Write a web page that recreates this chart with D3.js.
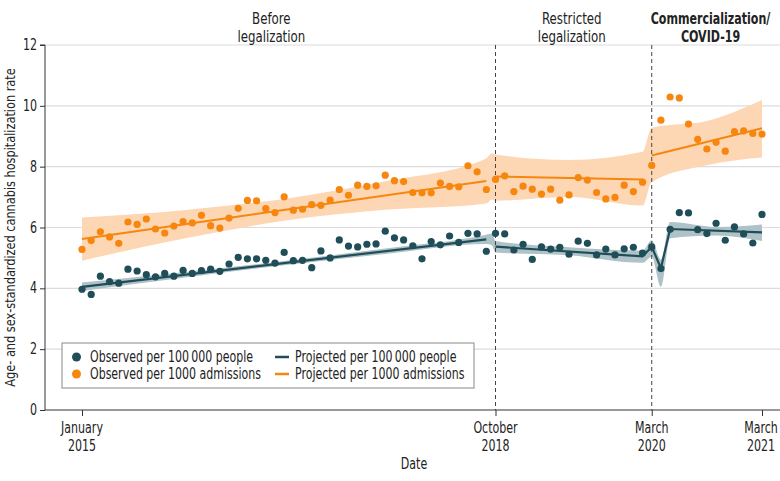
<!DOCTYPE html>
<html><head><meta charset="utf-8">
<script src="https://cdn.jsdelivr.net/npm/d3@7"></script>
<style>
body{margin:0;background:#fff;}
svg{display:block;font-family:"Liberation Sans Narrow","DejaVu Sans Condensed","Liberation Sans",sans-serif;}
</style></head>
<body><svg id="chart" width="780" height="481"></svg>
<script>
// Monthly observations, January 2015 (index 0) to March 2021 (index 74)
const per100k = [3.97,3.80,4.40,4.22,4.17,4.63,4.57,4.45,4.38,4.49,4.40,4.59,4.49,4.58,4.63,4.56,4.80,5.02,4.97,4.97,4.92,4.83,5.18,4.91,4.92,4.68,5.23,5.00,5.59,5.39,5.36,5.45,5.46,5.88,5.66,5.59,5.40,4.97,5.54,5.43,5.72,5.51,5.81,5.79,5.22,5.81,5.79,5.26,5.45,4.95,5.36,5.29,5.35,5.12,5.55,5.48,5.10,5.29,5.10,5.30,5.35,5.16,5.36,4.65,5.94,6.49,6.48,5.93,5.80,6.14,5.58,6.02,5.79,5.49,6.43];
const per1000 = [5.28,5.57,5.86,5.69,5.48,6.18,6.10,6.28,5.95,5.82,6.05,6.19,6.15,6.40,6.06,5.98,6.31,6.63,6.89,6.88,6.62,6.49,7.01,6.57,6.60,6.75,6.73,6.90,7.25,7.06,7.39,7.35,7.37,7.72,7.54,7.51,7.15,7.14,7.14,7.46,7.35,7.34,8.03,7.83,7.25,7.58,7.70,7.18,7.36,7.26,7.10,7.26,6.90,7.07,7.64,7.56,7.15,6.94,6.99,7.39,7.18,7.49,8.04,9.53,10.29,10.26,9.40,8.90,8.58,8.80,8.51,9.15,9.18,9.09,9.07];
// Projected lines: segments of [monthIndex, value]
const proj100kSegments = [
  [[0,4.05],[44,5.61]],
  [[45,5.37],[61,5.05],[62,5.37],[63,4.66],[64,5.95],[74,5.84]]
];
const proj1000Segments = [
  [[0,5.62],[44,7.53]],
  [[45,7.68],[61,7.58]],
  [[62,8.37],[74,9.26]]
];
// Confidence bands: [monthIndex, lower, upper]
const band100k = [[0,3.91,4.19],[11,4.35,4.53],[22,4.76,4.90],[33,5.13,5.31],[44,5.46,5.76],[44.6,5.42,5.80],[45,5.18,5.56],[53,5.09,5.35],[61,4.84,5.24],[62,5.04,5.58],[63,4.05,4.95],[64,5.65,6.18],[69,5.74,6.02],[74,5.56,6.10]];
const band1000 = [[0,4.91,6.33],[11,5.63,6.57],[22,6.22,6.94],[33,6.58,7.52],[44,6.79,8.27],[44.6,6.92,8.44],[45,6.88,8.40],[53,7.00,8.22],[61,6.72,8.49],[62,7.50,9.28],[68,8.05,9.50],[74,8.30,10.19]];
const xTicks = [0,45,62,74];
const xTickLabels = [["January","2015"],["October","2018"],["March","2020"],["March","2021"]];
const yTicks = [0,2,4,6,8,10,12];
const periodBreaks = [45,62];
const periods = [
  {lines:["Before","legalization"], at:20.6, bold:false},
  {lines:["Restricted","legalization"], at:53.3, bold:false},
  {lines:["Commercialization/","COVID-19"], at:68.4, bold:true}
];
const legendItems = [
  {type:"dot", key:"teal", label:"Observed per 100\u2009000 people"},
  {type:"line", key:"teal", label:"Projected per 100\u2009000 people"},
  {type:"dot", key:"orange", label:"Observed per 1000 admissions"},
  {type:"line", key:"orange", label:"Projected per 1000 admissions"}
];

const colors = {teal:"#1f4d58", orange:"#f7860f", tealBand:"#aec2c7", orangeBand:"#fdd6b3"};
const svg = d3.select("#chart");
const x = d3.scaleLinear().domain([0,74]).range([82,762]);
const y = d3.scaleLinear().domain([0,12]).range([410,45]);
const left = 45, right = 780;

// condensed text: natural glyphs squeezed horizontally by a scale transform
const RATIO = 0.82;
function ctext(parent, str, px, py, opts){
  const o = Object.assign({size:15, anchor:"middle", ratio:RATIO, weight:"normal", rotate:0}, opts||{});
  const g = parent.append("g");
  const t = g.append("text").attr("x",0).attr("y",0).attr("font-size",o.size)
    .attr("text-anchor",o.anchor).attr("font-weight",o.weight).attr("fill","#222").text(str);
  const rot = o.rotate ? ` rotate(${o.rotate})` : "";
  g.attr("transform",`translate(${px},${py})${rot} scale(${o.ratio},1)`);
  return t;
}

// gridlines
svg.append("g").selectAll("line").data(yTicks.filter(d=>d>0)).join("line")
  .attr("x1",left).attr("x2",right).attr("y1",d=>y(d)).attr("y2",d=>y(d))
  .attr("stroke","#dcdcdc").attr("stroke-width",1.2);

// bands
const area = d3.area().x(d=>x(d[0])).y0(d=>y(d[1])).y1(d=>y(d[2])).curve(d3.curveMonotoneX);
svg.append("path").datum(band1000).attr("d",area).attr("fill",colors.orangeBand);
svg.append("path").datum(band100k).attr("d",area).attr("fill",colors.tealBand);

// dashed period lines
svg.append("g").selectAll("line").data(periodBreaks).join("line")
  .attr("x1",d=>x(d)).attr("x2",d=>x(d)).attr("y1",y(12)).attr("y2",y(0))
  .attr("stroke","#444").attr("stroke-width",1).attr("stroke-dasharray","4,3");

// projected lines
const line = d3.line().x(d=>x(d[0])).y(d=>y(d[1]));
svg.append("g").selectAll("path").data(proj1000Segments).join("path")
  .attr("d",line).attr("fill","none").attr("stroke",colors.orange).attr("stroke-width",2);
svg.append("g").selectAll("path").data(proj100kSegments).join("path")
  .attr("d",line).attr("fill","none").attr("stroke",colors.teal).attr("stroke-width",2.2);

// points
svg.append("g").selectAll("circle").data(per100k).join("circle")
  .attr("cx",(d,i)=>x(i)).attr("cy",d=>y(d)).attr("r",3.6).attr("fill",colors.teal);
svg.append("g").selectAll("circle").data(per1000).join("circle")
  .attr("cx",(d,i)=>x(i)).attr("cy",d=>y(d)).attr("r",3.6).attr("fill",colors.orange);

// y axis
const yAxis = svg.append("g").attr("transform",`translate(${left},0)`)
  .call(d3.axisLeft(y).tickValues(yTicks).tickSize(5).tickFormat(""));
yAxis.select(".domain").attr("stroke","#333").attr("d",`M-5,${y(12)}H0V${y(0)}`);
yAxis.selectAll(".tick line").attr("stroke","#333");
yTicks.forEach(v=>ctext(svg, d3.format("d")(v), left-8, y(v)+5, {anchor:"end"}));

// x axis
const xAxis = svg.append("g").attr("transform",`translate(0,${y(0)})`)
  .call(d3.axisBottom(x).tickValues(xTicks).tickSize(6).tickFormat(""));
xAxis.select(".domain").attr("stroke","#333").attr("d",`M${left},0H${right}`);
xAxis.selectAll(".tick line").attr("stroke","#333");
xTicks.forEach((v,i)=>{
  const cx = Math.min(x(v), 761);
  ctext(svg, xTickLabels[i][0], cx, y(0)+23);
  ctext(svg, xTickLabels[i][1], cx, y(0)+41);
});

// axis titles
ctext(svg, "Date", 414, 469);
ctext(svg, "Age- and sex-standardized cannabis hospitalization rate", 15, (y(0)+y(12))/2,
  {rotate:-90, size:14, ratio:0.9});

// period labels
periods.forEach(p=>{
  p.lines.forEach((s,k)=>{
    ctext(svg, s, x(p.at), 24+k*18, {size:16, weight:p.bold?"bold":"normal", ratio:p.bold?0.77:0.82});
  });
});

// legend
const lg = svg.append("g");
lg.append("rect").attr("x",62).attr("y",343).attr("width",412).attr("height",45)
  .attr("fill","#fff").attr("stroke","#888").attr("stroke-width",1);
legendItems.forEach((it,i)=>{
  const col = i%2, row = Math.floor(i/2);
  const cy = 357 + row*17;
  const bx = col===0 ? 76 : 275;
  if(it.type==="dot"){
    lg.append("circle").attr("cx",bx+0.5).attr("cy",cy).attr("r",4.5).attr("fill",colors[it.key]);
  } else {
    lg.append("line").attr("x1",bx).attr("x2",bx+14).attr("y1",cy).attr("y2",cy)
      .attr("stroke",colors[it.key]).attr("stroke-width",2.5);
  }
  ctext(lg, it.label, col===0?90:295, cy+5, {anchor:"start", size:15, ratio:0.815});
});
</script></body></html>
